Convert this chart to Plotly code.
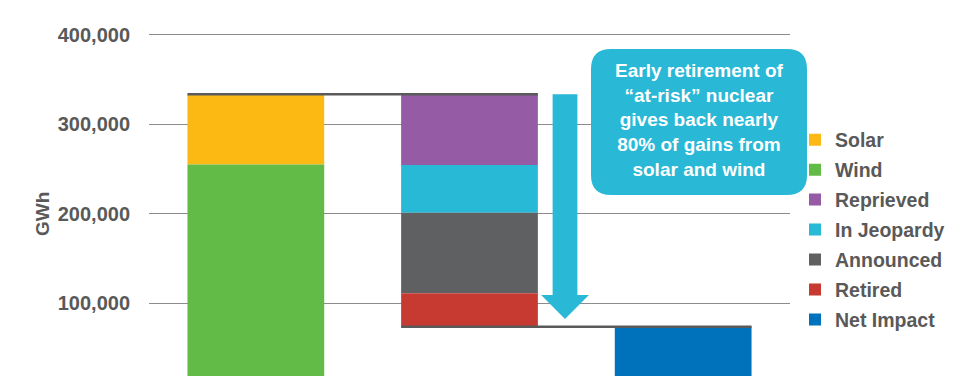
import plotly.graph_objects as go

# ---- data ----
categories = [0, 1, 2]
series_names = ["Solar", "Wind", "Reprieved", "In Jeopardy", "Announced", "Retired", "Net Impact"]
wind = 255000
solar = 78500
reprieved = 79000
in_jeopardy = 53300
announced = 90000
retired = 37300
tick_vals = [100000, 200000, 300000, 400000]
tick_text = ["100,000", "200,000", "300,000", "400,000"]
callout_lines = ["Early retirement of", "\u201cat-risk\u201d nuclear", "gives back nearly",
                 "80% of gains from", "solar and wind"]

colors = {
    "Solar": "#FDB913", "Wind": "#62BB46", "Reprieved": "#955BA5",
    "In Jeopardy": "#27B9D6", "Announced": "#5F6062", "Retired": "#C63A32",
    "Net Impact": "#0072BC",
}

total_gain = wind + solar
net_impact = total_gain - (reprieved + in_jeopardy + announced + retired)

W, H = 960, 376
ML, MR, MT, MB = 149, 170, 0, 0
YR = [18770, 438880]
BW = 0.64

FONT = "Liberation Sans, Arial, sans-serif"
GRAY = "#595959"

def px_x(px):
    return (px - ML) / (W - ML - MR)

def px_y(py):
    return 1 - (py - MT) / (H - MT - MB)

fig = go.Figure()

# (name, x, base, value)
segments = [
    ("Solar", categories[0], wind, solar),
    ("Wind", categories[0], 0, wind),
    ("Reprieved", categories[1], net_impact + retired + announced + in_jeopardy, reprieved),
    ("In Jeopardy", categories[1], net_impact + retired + announced, in_jeopardy),
    ("Announced", categories[1], net_impact + retired, announced),
    ("Retired", categories[1], net_impact, retired),
    ("Net Impact", categories[2], 0, net_impact),
]
for name, x, base, val in segments:
    fig.add_trace(go.Bar(
        x=[x], y=[val], base=[base], name=name, width=BW,
        marker=dict(color=colors[name], line=dict(width=0)),
        legendgroup=name, hoverinfo="skip",
    ))

# connector lines
fig.add_shape(type="line", xref="x", yref="y",
              x0=categories[0] - BW / 2, x1=categories[1] + BW / 2,
              y0=total_gain, y1=total_gain, line=dict(color="#5A5A5A", width=2.5))
fig.add_shape(type="line", xref="x", yref="y",
              x0=categories[1] - BW / 2, x1=categories[2] + BW / 2,
              y0=net_impact, y1=net_impact, line=dict(color="#5A5A5A", width=2.5))

# big arrow
ax = 1.447
sw, hw = 0.058, 0.112
ytop = total_gain
yhead = 109300
ytip = net_impact + 8600
arrow_path = (f"M{ax - sw},{ytop} L{ax + sw},{ytop} L{ax + sw},{yhead} L{ax + hw},{yhead} "
              f"L{ax},{ytip} L{ax - hw},{yhead} L{ax - sw},{yhead} Z")
fig.add_shape(type="path", xref="x", yref="y", path=arrow_path,
              fillcolor="#29B8D6", line=dict(width=0), layer="above")

# callout box with rounded corners (pixel geometry -> paper)
bx0, bx1, by0, by1, r = 591, 807, 49, 195, 20
pts = [
    ("M", bx0 + r, by0), ("L", bx1 - r, by0), ("Q", bx1, by0, bx1, by0 + r),
    ("L", bx1, by1 - r), ("Q", bx1, by1, bx1 - r, by1), ("L", bx0 + r, by1),
    ("Q", bx0, by1, bx0, by1 - r), ("L", bx0, by0 + r), ("Q", bx0, by0, bx0 + r, by0),
]
parts = []
for p in pts:
    if p[0] == "Q":
        parts.append(f"Q{px_x(p[1])},{px_y(p[2])} {px_x(p[3])},{px_y(p[4])}")
    else:
        parts.append(f"{p[0]}{px_x(p[1])},{px_y(p[2])}")
box_path = " ".join(parts) + " Z"
fig.add_shape(type="path", xref="paper", yref="paper", path=box_path,
              fillcolor="#29B8D6", line=dict(width=0), layer="above")

fig.add_annotation(xref="paper", yref="paper", x=px_x((bx0 + bx1) / 2), y=px_y(120),
                   text="<br>".join(callout_lines), showarrow=False,
                   font=dict(family=FONT, size=19, color="white", weight="bold"),
                   align="center", xanchor="center", yanchor="middle")

# y axis title
fig.add_annotation(xref="paper", yref="paper", x=px_x(42.5), y=px_y(214.5),
                   text="GWh", textangle=-90, showarrow=False,
                   font=dict(family=FONT, size=19, color=GRAY, weight="bold"),
                   xanchor="center", yanchor="middle")

fig.update_layout(
    width=W, height=H,
    margin=dict(l=ML, r=MR, t=MT, b=MB),
    paper_bgcolor="white", plot_bgcolor="white",
    barmode="overlay",
    font=dict(family=FONT, size=19, color=GRAY, weight="bold"),
    showlegend=True,
    legend=dict(
        x=px_x(795), xanchor="left", y=px_y(230), yanchor="middle",
        traceorder="grouped", tracegroupgap=1.6,
        font=dict(family=FONT, size=19.5, color=GRAY, weight="bold"),
        bgcolor="rgba(0,0,0,0)", itemclick=False, itemdoubleclick=False,
    ),
    xaxis=dict(range=[-0.5, 2.5], showticklabels=False, showgrid=False,
               zeroline=False, showline=False, fixedrange=True),
    yaxis=dict(range=YR, tickvals=tick_vals, ticktext=tick_text,
               showgrid=True, gridcolor="#8C8C8C", gridwidth=1.2,
               zeroline=False, showline=False, ticks="",
               ticklabelstandoff=18,
               tickfont=dict(family=FONT, size=20, color=GRAY, weight="bold"),
               fixedrange=True),
)

fig.write_html("out.html", config={"displayModeBar": False})
